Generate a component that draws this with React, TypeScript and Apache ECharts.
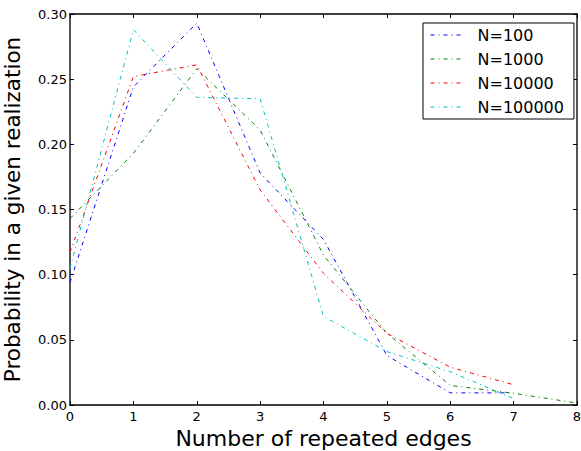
import React, { useEffect, useRef } from "react";
import * as echarts from "echarts";

const xValues = [0, 1, 2, 3, 4, 5, 6, 7, 8];
const seriesNames = ["N=100", "N=1000", "N=10000", "N=100000"];
const seriesColors = ["#0000ff", "#008000", "#ff0000", "#00bfbf"];
const n100 = [0.094, 0.244, 0.293, 0.178, 0.127, 0.038, 0.0093, 0.0093];
const n1000 = [0.143, 0.193, 0.258, 0.211, 0.115, 0.055, 0.015, 0.009, 0.0015];
const n10000 = [0.117, 0.252, 0.261, 0.165, 0.101, 0.055, 0.029, 0.0155];
const n100000 = [0.105, 0.288, 0.236, 0.235, 0.068, 0.041, 0.0255, 0.005];
const allData = [n100, n1000, n10000, n100000];

export default function App() {
  const ref = useRef<HTMLDivElement>(null);
  useEffect(() => {
    if (!ref.current) return;
    const chart = echarts.init(ref.current, null, { renderer: "svg" });
    const font = "DejaVu Sans";
    const tickStyle = { show: true, inside: true, length: 4, lineStyle: { color: "#000", width: 1 } };
    const hLine = { show: true, onZero: false, lineStyle: { color: "#000", width: 1.5 } };
    const vLine = { show: true, onZero: false, lineStyle: { color: "#555", width: 2 } };
    const dash = [4, 4, 1, 4];
    chart.setOption({
      animation: false,
      backgroundColor: "#fff",
      textStyle: { fontFamily: font },
      grid: { left: 70, top: 14, right: 4, bottom: 46, containLabel: false, outerBoundsMode: "none" },
      legend: {
        data: seriesNames,
        orient: "vertical",
        left: 423,
        top: 23,
        itemWidth: 33,
        itemHeight: 14,
        itemGap: 8,
        padding: [4, 10, 4, 7],
        borderColor: "#000",
        borderWidth: 1,
        backgroundColor: "#fff",
        itemStyle: { opacity: 0 },
        lineStyle: { type: dash, width: 1 },
        textStyle: { fontFamily: font, fontSize: 16, color: "#000", padding: [0, 0, 0, 9] },
      },
      xAxis: [
        {
          type: "value",
          min: 0,
          max: 8,
          interval: 1,
          name: "Number of repeated edges",
          nameLocation: "middle",
          nameGap: 22,
          nameTextStyle: { fontFamily: font, fontSize: 22, color: "#000" },
          axisLine: hLine,
          axisTick: tickStyle,
          axisLabel: { color: "#000", fontSize: 13, fontFamily: font, margin: 5 },
          splitLine: { show: false },
        },
        {
          type: "value",
          position: "top",
          min: 0,
          max: 8,
          interval: 1,
          axisLine: hLine,
          axisTick: tickStyle,
          axisLabel: { show: false },
          splitLine: { show: false },
        },
      ],
      yAxis: [
        {
          type: "value",
          min: 0,
          max: 0.3,
          interval: 0.05,
          name: "Probability in a given realization",
          nameLocation: "middle",
          nameGap: 47,
          nameTextStyle: { fontFamily: font, fontSize: 21.5, color: "#000" },
          axisLine: vLine,
          axisTick: tickStyle,
          axisLabel: {
            color: "#000",
            fontSize: 13,
            fontFamily: font,
            margin: 3,
            formatter: (v: number) => v.toFixed(2),
          },
          splitLine: { show: false },
        },
        {
          type: "value",
          position: "right",
          min: 0,
          max: 0.3,
          interval: 0.05,
          axisLine: vLine,
          axisTick: tickStyle,
          axisLabel: { show: false },
          splitLine: { show: false },
        },
      ],
      series: seriesNames.map((name, i) => ({
        name,
        type: "line",
        showSymbol: false,
        symbol: "none",
        color: seriesColors[i],
        lineStyle: { color: seriesColors[i], width: 1, type: dash },
        data: allData[i].map((v, j) => [xValues[j], v]),
      })),
    });
    return () => chart.dispose();
  }, []);
  return (
    <div
      ref={ref}
      style={{ position: "absolute", left: 0, top: 0, width: 581, height: 451 }}
    />
  );
}
